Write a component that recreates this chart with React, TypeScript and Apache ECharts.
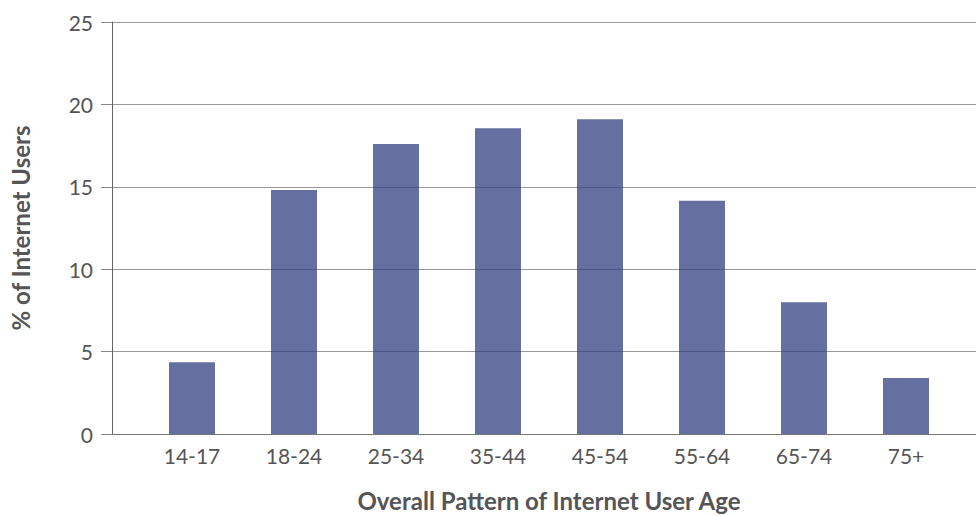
import React, { useEffect, useRef } from "react";
import * as echarts from "echarts";

const categories = ["14-17", "18-24", "25-34", "35-44", "45-54", "55-64", "65-74", "75+"];
const values = [4.35, 14.8, 17.6, 18.55, 19.1, 14.15, 8.0, 3.4];
const yTicks = { min: 0, max: 25, interval: 5 };
const xTitle = "Overall Pattern of Internet User Age";
const yTitle = "% of Internet Users";

const FONT = "Lato, 'Open Sans', sans-serif";

export default function App() {
  const ref = useRef<HTMLDivElement>(null);
  useEffect(() => {
    if (!ref.current) return;
    const chart = echarts.init(ref.current, null, { renderer: "svg" });
    chart.setOption({
      animation: false,
      backgroundColor: "#ffffff",
      textStyle: { fontFamily: FONT },
      grid: [
        { left: 112, right: 0, top: 22, height: 412, containLabel: false, outerBoundsMode: "none" },
        { left: 141, width: 816, top: 22, height: 412, containLabel: false, outerBoundsMode: "none" },
      ],
      xAxis: [
        {
          type: "value",
          gridIndex: 0,
          min: 0,
          max: 1,
          axisLine: { show: true, lineStyle: { color: "#777", width: 1 } },
          axisTick: { show: false },
          axisLabel: { show: false },
          splitLine: { show: false },
        },
        {
          type: "category",
          gridIndex: 1,
          data: categories,
          axisLine: { show: false },
          axisTick: { show: false },
          axisLabel: { color: "#555", fontSize: 21, margin: 11, fontFamily: FONT },
          name: xTitle,
          nameLocation: "middle",
          nameGap: 54,
          nameTextStyle: { color: "#555", fontSize: 24, fontWeight: "bold", fontFamily: FONT },
        },
      ],
      yAxis: [
        {
          type: "value",
          gridIndex: 0,
          min: yTicks.min,
          max: yTicks.max,
          interval: yTicks.interval,
          axisLine: { show: true, lineStyle: { color: "#666", width: 1 } },
          axisTick: { show: true, length: 11, lineStyle: { color: "#888" } },
          axisLabel: { color: "#555", fontSize: 21, margin: 19, fontFamily: FONT },
          splitLine: { show: true, lineStyle: { color: "#999", width: 1 } },
          name: yTitle,
          nameLocation: "middle",
          nameGap: 80,
          nameTextStyle: { color: "#555", fontSize: 24, fontWeight: "bold", fontFamily: FONT },
        },
        {
          type: "value",
          gridIndex: 1,
          min: yTicks.min,
          max: yTicks.max,
          interval: yTicks.interval,
          show: false,
        },
      ],
      series: [
        {
          type: "bar",
          xAxisIndex: 1,
          yAxisIndex: 1,
          data: values,
          barWidth: 46,
          itemStyle: { color: "rgba(50,64,130,0.75)" },
        },
      ],
    });
    return () => chart.dispose();
  }, []);
  return (
    <div
      ref={ref}
      style={{ position: "fixed", left: 0, top: 0, width: 976, height: 516 }}
    />
  );
}
